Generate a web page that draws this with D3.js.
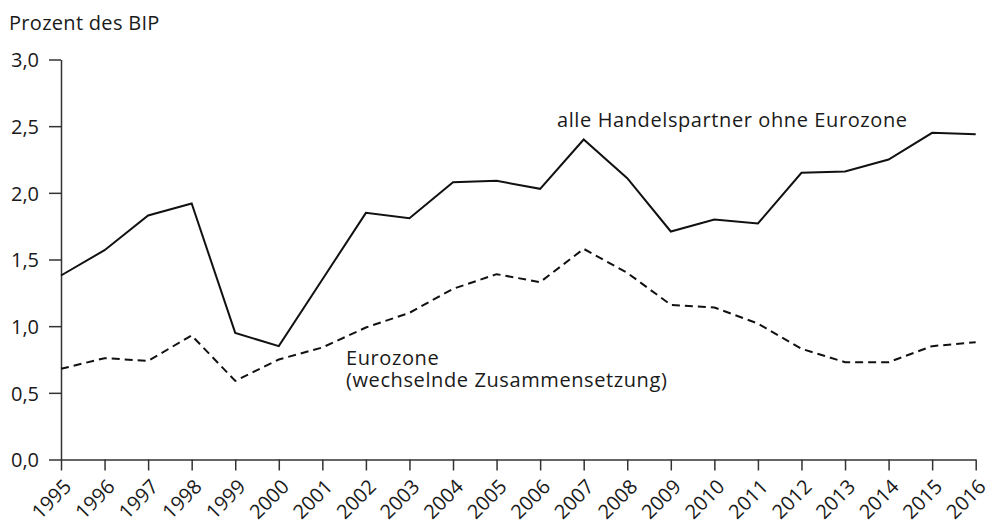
<!DOCTYPE html>
<html><head><meta charset="utf-8">
<script src="https://cdn.jsdelivr.net/npm/d3@7"></script>
<style>
body{margin:0;background:#fff;}
svg{display:block;}
text{font-family:"Open Sans",sans-serif;fill:#1a1a1a;}
</style></head>
<body><svg id="c" width="991" height="525"></svg>
<script>
const years = [1995,1996,1997,1998,1999,2000,2001,2002,2003,2004,2005,2006,2007,2008,2009,2010,2011,2012,2013,2014,2015,2016];
const allePartner = [1.38,1.57,1.83,1.92,0.95,0.85,1.35,1.85,1.81,2.08,2.09,2.03,2.40,2.11,1.71,1.80,1.77,2.15,2.16,2.25,2.45,2.44];
const eurozone = [0.68,0.76,0.74,0.93,0.59,0.75,0.84,0.99,1.10,1.28,1.39,1.33,1.58,1.40,1.16,1.14,1.02,0.83,0.73,0.73,0.85,0.88];
const yTicks = [0,0.5,1,1.5,2,2.5,3];
const yTitle = "Prozent des BIP";
const label1 = "alle Handelspartner ohne Eurozone";
const label2 = ["Eurozone","(wechselnde Zusammensetzung)"];

const FS = "20px";
const svg = d3.select("#c");
const x = d3.scaleLinear().domain([1995,2016]).range([61,975.7]);
const y = d3.scaleLinear().domain([0,3]).range([459.5,59.5]);
const fmt = d => d.toFixed(1).replace(".",",");

// y axis
const ya = svg.append("g").attr("transform","translate(61,0)")
  .call(d3.axisLeft(y).tickValues(yTicks).tickFormat(fmt).tickSize(12).tickPadding(10).tickSizeOuter(0));
ya.select(".domain").attr("stroke","#333").attr("stroke-width",1.5);
ya.selectAll(".tick line").attr("stroke","#333").attr("stroke-width",1.5);
ya.selectAll(".tick text").style("font-size",FS).attr("fill","#1a1a1a").attr("dy","0.36em");

// x axis
const xa = svg.append("g").attr("transform","translate(0,459.5)")
  .call(d3.axisBottom(x).tickValues(years).tickFormat(d3.format("d")).tickSize(11).tickSizeOuter(0));
xa.select(".domain").attr("stroke","#333").attr("stroke-width",1.5);
xa.selectAll(".tick line").attr("stroke","#333").attr("stroke-width",1.5);
xa.selectAll(".tick text").style("font-size",FS).attr("fill","#1a1a1a")
  .attr("text-anchor","end").attr("dy",null).attr("y",null)
  .attr("transform","translate(11,28.5) rotate(-45)");

svg.append("text").attr("x",9).attr("y",30).style("font-size",FS).style("letter-spacing","0.3px").text(yTitle);

const line = d3.line().x((d,i)=>x(years[i])).y(d=>y(d));
svg.append("path").datum(allePartner).attr("d",line).attr("fill","none").attr("stroke","#111").attr("stroke-width",2);
svg.append("path").datum(eurozone).attr("d",line).attr("fill","none").attr("stroke","#111").attr("stroke-width",2).attr("stroke-dasharray","8,5");

svg.append("text").attr("x",557).attr("y",127).style("font-size",FS).style("letter-spacing","0.6px").text(label1);
const t2 = svg.append("text").attr("x",346).attr("y",365).style("font-size",FS).style("letter-spacing","0.6px");
t2.selectAll("tspan").data(label2).join("tspan")
  .attr("x",346).attr("dy",(d,i)=>i===0?0:22).text(d=>d);
</script></body></html>
